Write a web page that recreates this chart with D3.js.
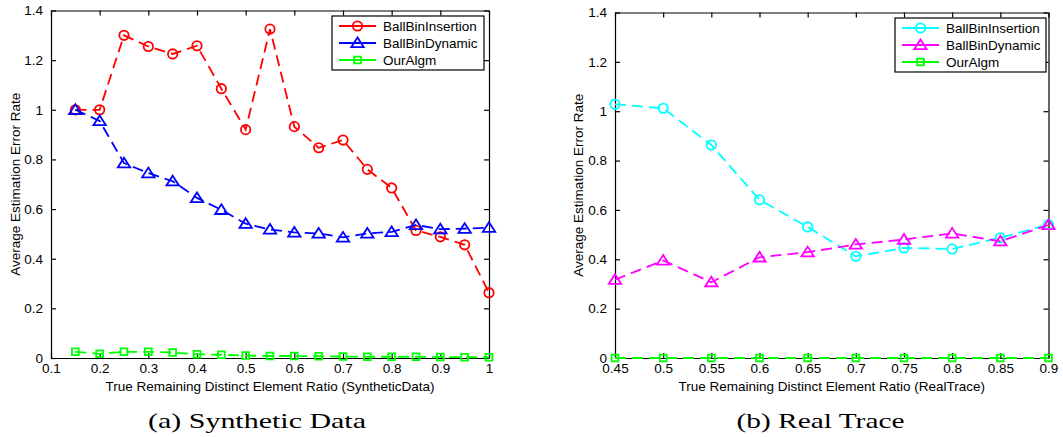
<!DOCTYPE html>
<html>
<head>
<meta charset="utf-8">
<script src="https://cdn.jsdelivr.net/npm/d3@7"></script>
<style>
  body { margin: 0; background: #fff; }
  svg { display: block; }
  .tick text { font-family: "Liberation Sans", Arial, sans-serif; font-size: 13.5px; fill: #000; }
  .axis path, .axis line { stroke: #000; stroke-width: 1.2; }
</style>
</head>
<body>
<svg id="chart" width="1063" height="437"></svg>
<script>
// ---- data ----
xSynthetic = [0.15, 0.2, 0.25, 0.3, 0.35, 0.4, 0.45, 0.5, 0.55, 0.6, 0.65, 0.7, 0.75, 0.8, 0.85, 0.9, 0.95, 1.0];
synInsertion = [1.0, 1.0, 1.30, 1.255, 1.225, 1.258, 1.085, 0.92, 1.325, 0.932, 0.847, 0.878, 0.76, 0.685, 0.514, 0.488, 0.456, 0.263];
synDynamic = [1.0, 0.955, 0.785, 0.745, 0.712, 0.645, 0.597, 0.541, 0.518, 0.506, 0.502, 0.486, 0.502, 0.508, 0.536, 0.519, 0.521, 0.525];
synOurAlgm = [0.025, 0.017, 0.025, 0.025, 0.022, 0.015, 0.013, 0.010, 0.008, 0.008, 0.007, 0.006, 0.005, 0.005, 0.005, 0.004, 0.003, 0.003];

xReal = [0.45, 0.5, 0.55, 0.6, 0.65, 0.7, 0.75, 0.8, 0.85, 0.9];
realInsertion = [1.028, 1.012, 0.863, 0.641, 0.531, 0.412, 0.446, 0.442, 0.487, 0.541];
realDynamic = [0.317, 0.395, 0.307, 0.408, 0.429, 0.46, 0.48, 0.505, 0.473, 0.539];
realOurAlgm = [0, 0, 0, 0, 0, 0, 0, 0, 0, 0];

seriesNames = ["BallBinInsertion", "BallBinDynamic", "OurAlgm"];
yTicks = [0, 0.2, 0.4, 0.6, 0.8, 1, 1.2, 1.4];
xTicksSynthetic = [0.1, 0.2, 0.3, 0.4, 0.5, 0.6, 0.7, 0.8, 0.9, 1];
xTicksReal = [0.45, 0.5, 0.55, 0.6, 0.65, 0.7, 0.75, 0.8, 0.85, 0.9];

var svg = d3.select("#chart");
var fmt = d3.format("~g");
var sansFont = '"Liberation Sans", Arial, sans-serif';
var serifFont = '"Liberation Serif", "DejaVu Serif", serif';
var lineW = 1.8;

// matlab-ish open markers
function markerPath(kind) {
  if (kind == "circle") {
    return d3.symbol().type(d3.symbolCircle).size(Math.PI * 4.7 * 4.7)();
  } else if (kind == "triangle") {
    return "M0,-5.5L6.2,4.2L-6.2,4.2Z";
  }
  return "M-3.4,-3.4H3.4V3.4H-3.4Z";
}

function drawPanel(opt) {
  var g = svg.append("g");

  var x = d3.scaleLinear().domain(opt.xDomain).range([opt.left, opt.right]);
  var y = d3.scaleLinear().domain([0, 1.4]).range([opt.bottom, opt.top]);

  // box with inward ticks on every side
  g.append("g").attr("class", "axis")
    .attr("transform", "translate(0," + opt.bottom + ")")
    .call(d3.axisBottom(x).tickValues(opt.xTicks).tickFormat(fmt).tickSizeInner(-5).tickSizeOuter(0).tickPadding(5));
  g.append("g").attr("class", "axis")
    .attr("transform", "translate(0," + opt.top + ")")
    .call(d3.axisTop(x).tickValues(opt.xTicks).tickFormat("").tickSizeInner(-5).tickSizeOuter(0));
  g.append("g").attr("class", "axis")
    .attr("transform", "translate(" + opt.left + ",0)")
    .call(d3.axisLeft(y).tickValues(yTicks).tickFormat(fmt).tickSizeInner(-5).tickSizeOuter(0).tickPadding(8));
  g.append("g").attr("class", "axis")
    .attr("transform", "translate(" + opt.right + ",0)")
    .call(d3.axisRight(y).tickValues(yTicks).tickFormat("").tickSizeInner(-5).tickSizeOuter(0));

  var line = d3.line()
    .x(function(d) { return x(d[0]); })
    .y(function(d) { return y(d[1]); });

  opt.series.forEach(function(s) {
    var pts = opt.xs.map(function(v, i) { return [v, s.values[i]]; });
    g.append("path")
      .datum(pts)
      .attr("d", line)
      .attr("fill", "none")
      .attr("stroke", s.color)
      .attr("stroke-width", lineW)
      .attr("stroke-dasharray", "11,6");
    g.selectAll(null)
      .data(pts)
      .enter().append("path")
      .attr("d", markerPath(s.marker))
      .attr("transform", function(d) { return "translate(" + x(d[0]) + "," + y(d[1]) + ")"; })
      .attr("fill", "none")
      .attr("stroke", s.color)
      .attr("stroke-width", lineW);
  });

  // legend
  var lg = g.append("g").attr("transform", "translate(" + opt.legendX + "," + opt.legendY + ")");
  lg.append("rect")
    .attr("width", opt.legendW).attr("height", 54)
    .attr("fill", "#fff").attr("stroke", "#000").attr("stroke-width", 1.2);
  opt.series.forEach(function(s, i) {
    var ry = 10 + i * 17;
    lg.append("line")
      .attr("x1", 7).attr("x2", 44).attr("y1", ry).attr("y2", ry)
      .attr("stroke", s.color).attr("stroke-width", lineW);
    lg.append("path")
      .attr("d", markerPath(s.marker))
      .attr("transform", "translate(25.5," + ry + ")")
      .attr("fill", "none").attr("stroke", s.color).attr("stroke-width", lineW);
    lg.append("text")
      .attr("x", 51).attr("y", ry + 5)
      .attr("font-family", sansFont).attr("font-size", 13.5)
      .text(s.name);
  });

  // axis labels
  g.append("text")
    .attr("x", (opt.left + opt.right) / 2).attr("y", opt.bottom + 33)
    .attr("text-anchor", "middle")
    .attr("font-family", sansFont).attr("font-size", 13.5)
    .text(opt.xLabel);
  g.append("text")
    .attr("transform", "translate(" + opt.yLabelX + "," + (opt.top + opt.bottom) / 2 + ") rotate(-90)")
    .attr("text-anchor", "middle")
    .attr("font-family", sansFont).attr("font-size", 13.5)
    .text("Average Estimation Error Rate");

  // sub-figure caption (computer modern is wide, so stretch a little)
  g.append("text")
    .attr("x", opt.captionX).attr("y", 428)
    .attr("text-anchor", "middle")
    .attr("font-family", serifFont).attr("font-size", 22)
    .attr("textLength", opt.captionW)
    .attr("lengthAdjust", "spacingAndGlyphs")
    .text(opt.caption);
}

drawPanel({
  left: 51, right: 489, top: 10.5, bottom: 358,
  xDomain: [0.1, 1], xTicks: xTicksSynthetic, xs: xSynthetic,
  series: [
    {name: seriesNames[0], values: synInsertion, color: "#ff0000", marker: "circle"},
    {name: seriesNames[1], values: synDynamic, color: "#0000ff", marker: "triangle"},
    {name: seriesNames[2], values: synOurAlgm, color: "#00ff00", marker: "square"}
  ],
  legendX: 332, legendY: 16, legendW: 152,
  xLabel: "True Remaining Distinct Element Ratio (SyntheticData)",
  yLabelX: 20,
  caption: "(a) Synthetic Data", captionX: 257, captionW: 218
});

drawPanel({
  left: 615, right: 1048.5, top: 12.5, bottom: 358,
  xDomain: [0.45, 0.9], xTicks: xTicksReal, xs: xReal,
  series: [
    {name: seriesNames[0], values: realInsertion, color: "#00ffff", marker: "circle"},
    {name: seriesNames[1], values: realDynamic, color: "#ff00ff", marker: "triangle"},
    {name: seriesNames[2], values: realOurAlgm, color: "#00ff00", marker: "square"}
  ],
  legendX: 895, legendY: 18, legendW: 151,
  xLabel: "True Remaining Distinct Element Ratio (RealTrace)",
  yLabelX: 583,
  caption: "(b) Real Trace", captionX: 820.5, captionW: 168
});
</script>
</body>
</html>
